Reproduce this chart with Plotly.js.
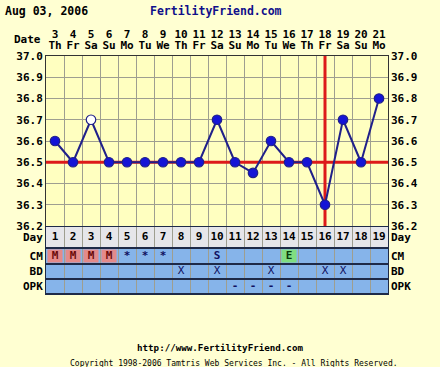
<!DOCTYPE html>
<html>
<head>
<meta charset="utf-8">
<script src="https://cdn.plot.ly/plotly-3.0.1.min.js"></script>
<style>html,body{margin:0;padding:0;background:#FFFFD2;}</style>
</head>
<body>
<div id="chart" style="width:440px;height:367px;"></div>
<script>
// ---- data ----
const days = [1,2,3,4,5,6,7,8,9,10,11,12,13,14,15,16,17,18,19];
const dates = [3,4,5,6,7,8,9,10,11,12,13,14,15,16,17,18,19,20,21];
const weekdays = ['Th','Fr','Sa','Su','Mo','Tu','We','Th','Fr','Sa','Su','Mo','Tu','We','Th','Fr','Sa','Su','Mo'];
const temps = [36.6,36.5,36.7,36.5,36.5,36.5,36.5,36.5,36.5,36.7,36.5,36.45,36.6,36.5,36.5,36.3,36.7,36.5,36.8];
const discarded = [false,false,true,false,false,false,false,false,false,false,false,false,false,false,false,false,false,false,false];
const cm  = ['M','M','M','M','*','*','*','','','S','','','','E','','','','',''];
const bd  = ['','','','','','','','X','','X','','','X','','','X','X','',''];
const opk = ['','','','','','','','','','','-','-','-','-','','','','',''];
const coverline = 36.5;
const ovulationDay = 16;
const tempRange = [36.2, 37.0];
const rowLabels = ['Day','CM','BD','OPK'];
const dateLabel = 'Date';
const titleDate = 'Aug 03, 2006';
const siteName = 'FertilityFriend.com';
const footerUrl = 'http://www.FertilityFriend.com';
const footerCopy = 'Copyright 1998-2006 Tamtris Web Services Inc. - All Rights Reserved.';

// ---- styles ----
const MONO = 'DejaVu Sans Mono';
const BLUE = '#1414D6', NAVY = '#20208A', RED = '#DD1A1A';
const GRID = '#9E9E90';
const rowEdges = [0, 22, 38, 53, 68];
const rowCenters = rowEdges.slice(0,4).map((v,i)=> (v + rowEdges[i+1]) / 2);
const tableH = rowEdges[4];
const totalH = 238;
const split = tableH / totalH;

const shapes = [];
const cellColor = (row, val) => {
  if (row === 1 && val === 'M') return '#E48A8A';
  if (row === 1 && val === 'E') return '#80DE80';
  return '#86B4EA';
};
const rows = [days.map(String), cm, bd, opk];
rows.forEach((vals, r) => {
  days.forEach((d, i) => {
    const special = (r === 1 && (vals[i] === 'M' || vals[i] === 'E'));
    shapes.push({type:'rect', xref:'x', yref:'y2', layer:'below',
      x0: d - 0.5, x1: d + 0.5, y0: rowEdges[r], y1: rowEdges[r+1],
      fillcolor: r === 0 ? '#E6E6EA' : '#86B4EA', line:{width:0}});
    if (special) {
      shapes.push({type:'rect', xref:'x', yref:'y2', layer:'below',
        x0: d - 0.42, x1: d + 0.42, y0: rowEdges[r] + 1.5, y1: rowEdges[r+1] - 1.5,
        fillcolor: cellColor(r, vals[i]), line:{width:0}});
    }
  });
});
rowEdges.forEach(e => {
  shapes.push({type:'line', xref:'paper', yref:'y2', layer:'above',
    x0:0, x1:1, y0:e, y1:e, line:{color:'#1E2A48', width: 2}});
});

const xr = [days[0] - 0.5, days[days.length-1] + 0.5];
const textFont = {family: MONO, size: 11, weight: 'bold'};
const traces = [
  // coverline
  {type:'scatter', x: xr, y: [coverline, coverline], mode:'lines', xaxis:'x', yaxis:'y',
   line:{color:RED, width:3}, hoverinfo:'skip', showlegend:false, cliponaxis:false},
  // ovulation line
  {type:'scatter', x: [ovulationDay, ovulationDay], y: tempRange, mode:'lines', xaxis:'x', yaxis:'y',
   line:{color:RED, width:3}, hoverinfo:'skip', showlegend:false, cliponaxis:false},
  // temperatures
  {type:'scatter', x: days, y: temps, mode:'lines+markers', xaxis:'x', yaxis:'y',
   line:{color:NAVY, width:2},
   marker:{size:9.5, color: discarded.map(v => v ? '#FFFFFF' : BLUE), line:{color:NAVY, width:1.2}},
   hoverinfo:'skip', showlegend:false, cliponaxis:false},
  {type:'scatter', x: days, y: days.map(()=>rowCenters[0]), text: days.map(String), mode:'text',
   xaxis:'x', yaxis:'y2', textfont:{...textFont, color:'#000000'}, hoverinfo:'skip', showlegend:false},
  {type:'scatter', x: days, y: days.map(()=>rowCenters[1]), text: cm, mode:'text',
   xaxis:'x', yaxis:'y2', textfont:{...textFont, color: cm.map(v => v === 'M' ? '#6A0A0A' : (v === 'E' ? '#0A3A0A' : '#101060'))}, hoverinfo:'skip', showlegend:false},
  {type:'scatter', x: days, y: days.map(()=>rowCenters[2]), text: bd, mode:'text',
   xaxis:'x', yaxis:'y2', textfont:{...textFont, weight:'normal', color:'#101060'}, hoverinfo:'skip', showlegend:false},
  {type:'scatter', x: days, y: days.map(()=>rowCenters[3]), text: opk, mode:'text',
   xaxis:'x', yaxis:'y2', textfont:{...textFont, color:'#101060'}, hoverinfo:'skip', showlegend:false},
  {type:'scatter', x: [], y: [], xaxis:'x2', yaxis:'y', hoverinfo:'skip', showlegend:false},
  {type:'scatter', x: [], y: [], xaxis:'x3', yaxis:'y', hoverinfo:'skip', showlegend:false},
  {type:'scatter', x: [], y: [], xaxis:'x', yaxis:'y3', hoverinfo:'skip', showlegend:false},
  {type:'scatter', x: [], y: [], xaxis:'x', yaxis:'y4', hoverinfo:'skip', showlegend:false}
];

const boundaries = days.map(d => d - 0.5).concat([days[days.length-1] + 0.5]);
const tfont = {family: MONO, size: 11, color: '#000000', weight: 'bold'};
const yTemp = {range: tempRange, tick0:36.2, dtick:0.1, tickformat:'.1f', tickfont:tfont,
  ticks:'', zeroline:false, fixedrange:true};

const layout = {
  width: 440, height: 367,
  margin: {l:46, r:52, t:56, b:73, pad:0},
  paper_bgcolor: '#FFFFD2', plot_bgcolor: '#FFFFC0',
  showlegend: false,
  xaxis: {domain:[0,1], range: xr, anchor:'y2', tickvals: boundaries, showticklabels:false,
    showgrid:true, gridcolor:GRID, gridwidth:1, zeroline:false, ticks:'',
    showline:true, linecolor:'#1E2A48', linewidth:1},
  xaxis2: {overlaying:'x', side:'top', anchor:'y', range: xr, tickvals: days, ticktext: weekdays,
    showgrid:false, zeroline:false, ticks:'', tickfont:tfont, ticklabelstandoff: 2,
    showline:true, linecolor:'#333333', linewidth:1},
  xaxis3: {overlaying:'x', side:'top', anchor:'y', range: xr, tickvals: days, ticktext: dates.map(String),
    showgrid:false, zeroline:false, ticks:'', tickfont:tfont, ticklabelstandoff: 15, showline:false},
  yaxis: Object.assign({}, yTemp, {domain:[split, 1], anchor:'x', showgrid:true, gridcolor:GRID, gridwidth:1,
    showline:true, linecolor:'#333333', linewidth:1, mirror:true}),
  yaxis3: Object.assign({}, yTemp, {overlaying:'y', side:'right', anchor:'x', showgrid:false, showline:false,
    ticklabelstandoff: 2}),
  yaxis2: {domain:[0, split], range:[tableH, 0], anchor:'x', tickvals: rowCenters, ticktext: rowLabels,
    tickfont:tfont, ticks:'', showgrid:false, zeroline:false, showline:true, linecolor:'#1E2A48', linewidth:1, mirror:true},
  yaxis4: {overlaying:'y2', side:'right', anchor:'x', range:[tableH, 0], tickvals: rowCenters, ticktext: rowLabels,
    tickfont:tfont, ticks:'', showgrid:false, zeroline:false, showline:false, ticklabelstandoff: 2},
  shapes: shapes,
  annotations: [
    {xref:'paper', yref:'paper', x:(3-46)/342, y:1 + (56-11)/totalH, xanchor:'left', yanchor:'middle',
     text: titleDate, showarrow:false, font:{family:MONO, size:11.5, weight:'bold', color:'#000000'}},
    {xref:'paper', yref:'paper', x:(216-46)/342, y:1 + (56-11)/totalH, xanchor:'center', yanchor:'middle',
     text: siteName, showarrow:false, font:{family:MONO, size:11.5, weight:'bold', color:'#10108A'}},
    {xref:'paper', yref:'paper', x:(43-46)/342, y:1 + (56-39)/totalH, xanchor:'right', yanchor:'middle',
     text: dateLabel, showarrow:false, font:tfont},
    {xref:'paper', yref:'paper', x:(220-46)/342, y:1 - (347-56)/totalH, xanchor:'center', yanchor:'middle',
     text: footerUrl, showarrow:false, font:{family:MONO, size:9.2, weight:'bold', color:'#000000'}},
    {xref:'paper', yref:'paper', x:(234-46)/342, y:1 - (363-56)/totalH, xanchor:'center', yanchor:'middle',
     text: footerCopy, showarrow:false, font:{family:MONO, size:8, color:'#000000'}}
  ]
};

Plotly.newPlot('chart', traces, layout, {staticPlot:true, displayModeBar:false});
</script>
</body>
</html>
